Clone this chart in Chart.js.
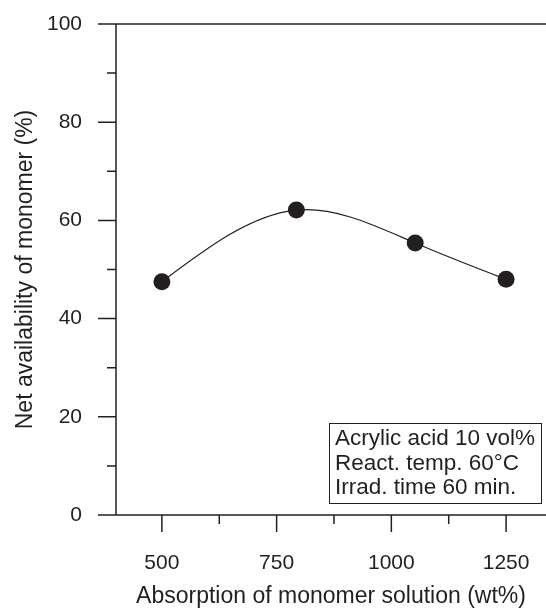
<!DOCTYPE html>
<html>
<head>
<meta charset="utf-8">
<script src="https://cdn.jsdelivr.net/npm/chart.js@4.4.1/dist/chart.umd.min.js"></script>
<style>
  html, body { margin: 0; padding: 0; background: #fff; }
  #wrap { width: 546px; height: 608px; position: relative; }
</style>
</head>
<body>
<div id="wrap"><canvas id="chart"></canvas></div>
<script>
// data
const absorption = [500, 793, 1052, 1250];
const availability = [47.5, 62.1, 55.4, 48.0];

const xMajorTicks = [500, 750, 1000, 1250];
const xMinorTicks = [625, 875, 1125];
const yMajorTicks = [0, 20, 40, 60, 80, 100];
const yMinorTicks = [10, 30, 50, 70, 90];

const noteLines = ['Acrylic acid 10 vol%', 'React. temp. 60\u00B0C', 'Irrad. time 60 min.'];

const INK = '#231f20';
const FONT = "'Liberation Sans', Arial, sans-serif";

// the figure's curve is a natural cubic spline through the points:
// set the line element's bezier control points from its slopes
const splinePlugin = {
  id: 'naturalSpline',
  beforeDatasetDraw(chart, args) {
    const meta = args.meta;
    const pts = meta.data;
    const n = pts.length;
    if (n < 3) return;
    const h = [], s = [];
    for (let i = 0; i < n - 1; i++) {
      h.push(pts[i + 1].x - pts[i].x);
      s.push((pts[i + 1].y - pts[i].y) / h[i]);
    }
    // tridiagonal solve for second derivatives, M0 = Mn-1 = 0
    const M = new Array(n).fill(0);
    const a = [], b = [], c = [], r = [];
    for (let i = 1; i < n - 1; i++) {
      a.push(h[i - 1]); b.push(2 * (h[i - 1] + h[i])); c.push(h[i]);
      r.push(6 * (s[i] - s[i - 1]));
    }
    const m = b.length;
    for (let i = 1; i < m; i++) {
      const w = a[i] / b[i - 1];
      b[i] -= w * c[i - 1];
      r[i] -= w * r[i - 1];
    }
    for (let i = m - 1; i >= 0; i--) {
      M[i + 1] = (r[i] - (i < m - 1 ? c[i] * M[i + 2] : 0)) / b[i];
    }
    const d = [];
    for (let i = 0; i < n - 1; i++) d.push(s[i] - h[i] * (2 * M[i] + M[i + 1]) / 6);
    d.push(s[n - 2] + h[n - 2] * (M[n - 2] + 2 * M[n - 1]) / 6);
    pts.forEach((p, i) => {
      const hb = i > 0 ? h[i - 1] / 3 : 0;
      const hf = i < n - 1 ? h[i] / 3 : 0;
      p.cp1x = p.x - hb; p.cp1y = p.y - d[i] * hb;
      p.cp2x = p.x + hf; p.cp2y = p.y + d[i] * hf;
    });
    meta.dataset._pointsUpdated = true;
    meta.dataset._path = undefined;
  }
};

// axis lines, tick marks and the note box
const framePlugin = {
  id: 'frame',
  afterDraw(chart) {
    const c = chart.ctx;
    const xs = chart.scales.x, ys = chart.scales.y;
    const area = chart.chartArea;
    c.save();
    c.strokeStyle = INK;
    c.lineWidth = 1.5;
    c.beginPath();
    c.moveTo(area.left, area.top);
    c.lineTo(area.left, area.bottom);
    c.moveTo(area.left - 18, area.bottom);
    c.lineTo(area.right, area.bottom);
    c.moveTo(area.left - 18, area.top);
    c.lineTo(area.right, area.top);
    yMajorTicks.forEach(v => {
      const y = ys.getPixelForValue(v);
      c.moveTo(area.left - 18, y);
      c.lineTo(area.left, y);
    });
    yMinorTicks.forEach(v => {
      const y = ys.getPixelForValue(v);
      c.moveTo(area.left - 9, y);
      c.lineTo(area.left, y);
    });
    xMajorTicks.forEach(v => {
      const x = xs.getPixelForValue(v);
      c.moveTo(x, area.bottom);
      c.lineTo(x, area.bottom + 17);
    });
    xMinorTicks.forEach(v => {
      const x = xs.getPixelForValue(v);
      c.moveTo(x, area.bottom);
      c.lineTo(x, area.bottom + 9);
    });
    c.stroke();

    // note box
    const bx = 329, by = 423, bw = 212, bh = 80;
    c.lineWidth = 1;
    c.fillStyle = '#fff';
    c.fillRect(bx, by, bw, bh);
    c.strokeRect(bx + 0.5, by + 0.5, bw, bh);
    c.fillStyle = INK;
    c.font = '22.5px ' + FONT;
    c.textBaseline = 'middle';
    c.textAlign = 'left';
    noteLines.forEach((t, i) => c.fillText(t, bx + 6, by + 16 + i * 24.5));
    c.restore();
  }
};

const noPad = s => { s.paddingTop = 0; s.paddingBottom = 0; s.paddingLeft = 0; s.paddingRight = 0; };

new Chart(document.getElementById('chart'), {
  type: 'scatter',
  data: {
    datasets: [{
      data: absorption.map((x, i) => ({ x: x, y: availability[i] })),
      showLine: true,
      tension: 0.4,
      borderColor: INK,
      borderWidth: 1.2,
      backgroundColor: INK,
      pointBackgroundColor: INK,
      pointBorderWidth: 0,
      pointRadius: 8.5,
      pointHoverRadius: 8.5
    }]
  },
  options: {
    responsive: true,
    maintainAspectRatio: false,
    animation: false,
    events: [],
    layout: { autoPadding: false, padding: { top: 24, right: 0, left: 0, bottom: 0 } },
    plugins: { legend: { display: false }, tooltip: { enabled: false } },
    scales: {
      x: {
        type: 'linear',
        min: 400,
        max: 1337,
        grid: { display: false, drawTicks: false },
        border: { display: false },
        afterBuildTicks: s => { s.ticks = xMajorTicks.map(v => ({ value: v })); },
        afterFit: s => { s.height = 93; noPad(s); },
        ticks: { color: INK, font: { family: FONT, size: 21 }, padding: 36, maxRotation: 0, callback: v => String(v) },
        title: {
          display: true,
          text: 'Absorption of monomer solution (wt%)',
          color: INK,
          font: { family: FONT, size: 23, lineHeight: 1 },
          padding: { top: 0, bottom: 0 }
        }
      },
      y: {
        min: 0,
        max: 100,
        grid: { display: false, drawTicks: false },
        border: { display: false },
        afterBuildTicks: s => { s.ticks = yMajorTicks.map(v => ({ value: v })); },
        afterFit: s => { s.width = 116; noPad(s); },
        ticks: { color: INK, font: { family: FONT, size: 21 }, padding: 34, callback: v => String(v) },
        title: {
          display: true,
          text: 'Net availability of monomer (%)',
          color: INK,
          font: { family: FONT, size: 23, lineHeight: 1 },
          padding: { top: 14, bottom: 0 }
        }
      }
    }
  },
  plugins: [splinePlugin, framePlugin]
});
</script>
</body>
</html>
